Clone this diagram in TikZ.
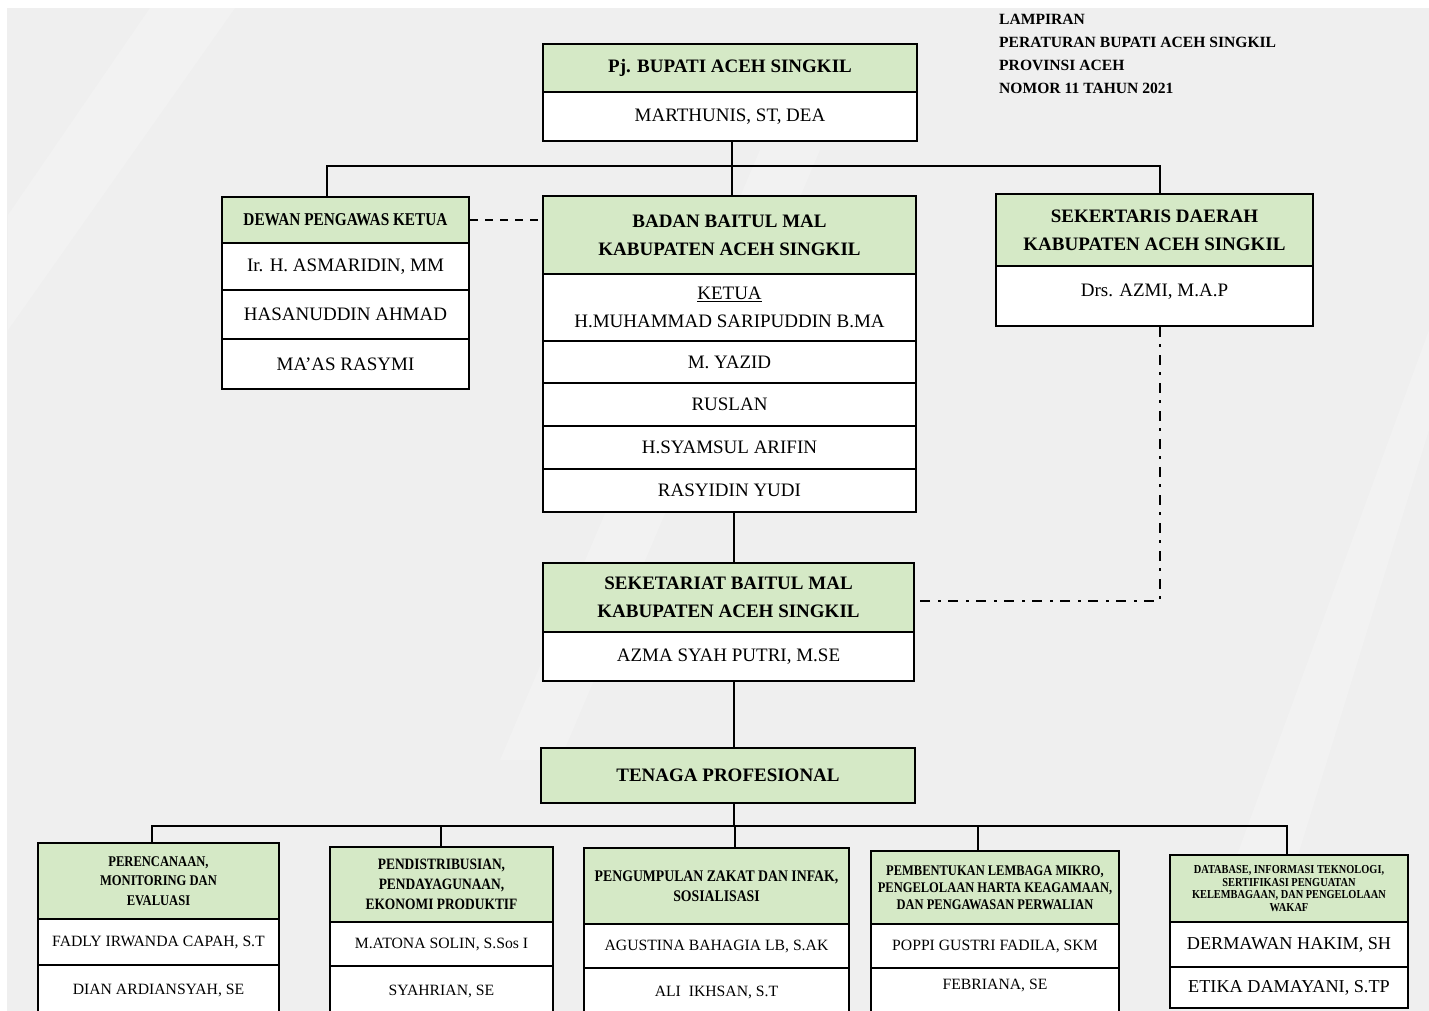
\documentclass[tikz,border=0pt]{standalone}
\usepackage{fontspec}
\setmainfont{Liberation Serif}
\newfontfamily\cond[FakeStretch=0.85]{Liberation Serif}
\definecolor{hdr}{RGB}{213,233,198}
\definecolor{bgc}{RGB}{239,239,239}
\tikzset{
  boxbase/.style={draw=black, line width=2.4pt, inner sep=0pt, align=center, text=black},
  hdrbox/.style={boxbase, fill=hdr, font=\bfseries\fontsize{19}{28}\selectfont},
  namebox/.style={boxbase, fill=white, font=\fontsize{19}{28}\selectfont},
  bothdr/.style={boxbase, fill=hdr},
  botname/.style={boxbase, fill=white, font=\fontsize{15.7}{18}\selectfont},
  link/.style={line width=2.6pt, draw=black},
  dashlink/.style={line width=2.6pt, draw=black, dash pattern=on 8pt off 7pt},
  dotdashlink/.style={line width=2.6pt, draw=black, dash pattern=on 10pt off 7pt on 3pt off 8pt},
  notetext/.style={anchor=base west, inner sep=0pt, font=\bfseries\fontsize{15.6}{18}\selectfont}
}
\newcommand\bx[7]{\node[#2, minimum width={(#5)-(#3)}, minimum height={(#6)-(#4)}] (#1) at ({((#3)+(#5))/2},{((#4)+(#6))/2}) {#7};}
\begin{document}
\begin{tikzpicture}[x=1pt,y=-1pt]
\useasboundingbox (0,0) rectangle (1429,1011);
\clip (0,0) rectangle (1429,1011);
\fill[white] (0,0) rectangle (1429,1011);
\fill[bgc] (7,8) rectangle (1429,1011);
% subtle background streaks
\fill[white,opacity=0.2] (150,8) -- (235,8) -- (8,330) -- (8,215) -- cycle;
\fill[white,opacity=0.2] (760,150) -- (820,150) -- (560,760) -- (500,760) -- cycle;
\fill[white,opacity=0.2] (1429,330) -- (1429,430) -- (1250,1011) -- (1180,1011) -- cycle;

% top right note
\node[notetext] (n1) at (999,25) {LAMPIRAN};
\node[notetext] (n2) at (999,48) {PERATURAN BUPATI ACEH SINGKIL};
\node[notetext] (n3) at (999,71) {PROVINSI ACEH};
\node[notetext] (n4) at (999,94) {NOMOR 11 TAHUN 2021};

% top
\bx{bupH}{hdrbox}{543}{44}{917}{92}{Pj. BUPATI ACEH SINGKIL}
\bx{bupN}{namebox}{543}{92}{917}{141}{MARTHUNIS, ST, DEA}

% dewan pengawas
\bx{dewH}{hdrbox,font=\cond\bfseries\fontsize{18}{20}\selectfont}{222}{197}{469}{243}{DEWAN PENGAWAS KETUA}
\bx{dew1}{namebox}{222}{243}{469}{290}{Ir. H. ASMARIDIN, MM}
\bx{dew2}{namebox}{222}{290}{469}{339}{HASANUDDIN AHMAD}
\bx{dew3}{namebox}{222}{339}{469}{389}{MA’AS RASYMI}

% badan baitul mal
\bx{badH}{hdrbox}{543}{196}{916}{274}{BADAN BAITUL MAL\\KABUPATEN ACEH SINGKIL}
\bx{bad1}{namebox}{543}{274}{916}{341}{\underline{KETUA}\\H.MUHAMMAD SARIPUDDIN B.MA}
\bx{bad2}{namebox}{543}{341}{916}{383}{M. YAZID}
\bx{bad3}{namebox}{543}{383}{916}{426}{RUSLAN}
\bx{bad4}{namebox}{543}{426}{916}{469}{H.SYAMSUL ARIFIN}
\bx{bad5}{namebox}{543}{469}{916}{512}{RASYIDIN YUDI}

% sekertaris daerah
\bx{secH}{hdrbox}{996}{194}{1313}{266}{SEKERTARIS DAERAH\\KABUPATEN ACEH SINGKIL}
\bx{secN}{namebox,text height=13pt,text depth=12pt}{996}{266}{1313}{326}{Drs. AZMI, M.A.P}

% sekretariat
\bx{sbmH}{hdrbox}{543}{563}{914}{632}{SEKETARIAT BAITUL MAL\\KABUPATEN ACEH SINGKIL}
\bx{sbmN}{namebox}{543}{632}{914}{681}{AZMA SYAH PUTRI, M.SE}

% tenaga profesional
\bx{tpH}{hdrbox}{541}{748}{915}{803}{TENAGA PROFESIONAL}

% bottom row
\bx{aH}{bothdr,font=\cond\bfseries\fontsize{14.8}{19.5}\selectfont}{38}{843}{279}{919}{PERENCANAAN,\\MONITORING DAN\\EVALUASI}
\bx{a1}{botname}{38}{919}{279}{965}{FADLY IRWANDA CAPAH, S.T}
\bx{a2}{botname}{38}{965}{279}{1016}{DIAN ARDIANSYAH, SE}

\bx{bH}{bothdr,font=\cond\bfseries\fontsize{15.8}{20}\selectfont}{330}{847}{553}{922}{PENDISTRIBUSIAN,\\PENDAYAGUNAAN,\\EKONOMI PRODUKTIF}
\bx{b1}{botname}{330}{922}{553}{966}{M.ATONA SOLIN, S.Sos I}
\bx{b2}{botname}{330}{966}{553}{1016}{SYAHRIAN, SE}

\bx{cH}{bothdr,font=\cond\bfseries\fontsize{16.2}{20}\selectfont}{584}{848}{849}{924}{PENGUMPULAN ZAKAT DAN INFAK,\\SOSIALISASI}
\bx{c1}{botname}{584}{924}{849}{968}{AGUSTINA BAHAGIA LB, S.AK}
\bx{c2}{botname}{584}{968}{849}{1016}{ALI\ \ IKHSAN, S.T}

\bx{dH}{bothdr,font=\cond\bfseries\fontsize{14.7}{17}\selectfont}{871}{851}{1119}{924}{PEMBENTUKAN LEMBAGA MIKRO,\\PENGELOLAAN HARTA KEAGAMAAN,\\DAN PENGAWASAN PERWALIAN}
\bx{d1}{botname}{871}{924}{1119}{968}{POPPI GUSTRI FADILA, SKM}
\bx{d2}{botname,text height=10.4pt,text depth=16pt}{871}{968}{1119}{1016}{FEBRIANA, SE}

\bx{eH}{bothdr,font=\cond\bfseries\fontsize{12.2}{12.8}\selectfont}{1170}{855}{1408}{922}{DATABASE, INFORMASI TEKNOLOGI,\\SERTIFIKASI PENGUATAN\\KELEMBAGAAN, DAN PENGELOLAAN\\WAKAF}
\bx{e1}{botname,font=\fontsize{18.2}{20}\selectfont}{1170}{922}{1408}{967}{DERMAWAN HAKIM, SH}
\bx{e2}{botname,font=\fontsize{18.2}{20}\selectfont}{1170}{967}{1408}{1008}{ETIKA DAMAYANI, S.TP}

% connectors
\coordinate (tl) at (327,166);
\coordinate (tr) at (1160,166);
\coordinate (vt) at (732,0);
\coordinate (vb) at (734,0);
\draw[link] (bupN.south -| vt) -- (badH.north -| vt);
\draw[link] (tl |- dewH.north) -- (tl) -- (tr) -- (tr |- secH.north);
\draw[dashlink] (dewH.east) -- (dewH.east -| badH.west);
\draw[link] (bad5.south -| vb) -- (sbmH.north -| vb);
\draw[dotdashlink] (secN.south -| tr) |- ([yshift=-3.5pt]sbmH.east);
\draw[link] (sbmN.south -| vb) -- (tpH.north -| vb);

\coordinate (ba) at (152,826);
\coordinate (bb) at (441,826);
\coordinate (bc) at (735,826);
\coordinate (bd) at (978,826);
\coordinate (be) at (1287,826);
\draw[link] (tpH.south -| vb) -- (vb |- ba);
\draw[link] (ba |- aH.north) -- (ba) -- (be) -- (be |- eH.north);
\draw[link] (bb) -- (bb |- bH.north);
\draw[link] (bc) -- (bc |- cH.north);
\draw[link] (bd) -- (bd |- dH.north);
\end{tikzpicture}
\end{document}
